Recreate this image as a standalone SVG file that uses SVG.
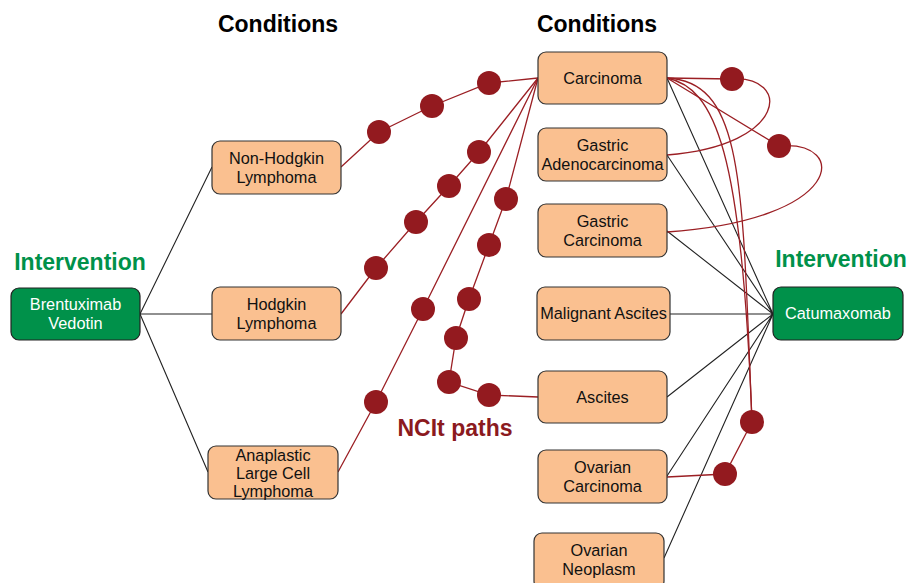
<svg xmlns="http://www.w3.org/2000/svg" width="909" height="583" viewBox="0 0 909 583">
<style>
.cond rect{fill:#FAC090;stroke:#333;stroke-width:1.2}
.drug rect{fill:#00914A;stroke:#222;stroke-width:1.2}
.cond text{font-family:"Liberation Sans",Arial,sans-serif;font-size:16.3px;fill:#111;text-anchor:middle}
.drug text{font-family:"Liberation Sans",Arial,sans-serif;font-size:16.3px;fill:#fff;text-anchor:middle}
.hd{font-family:"Liberation Sans",Arial,sans-serif;font-size:23px;font-weight:bold;text-anchor:middle}
.bl{stroke:#222;stroke-width:1.1;fill:none}
.rd{stroke:#9B1F24;stroke-width:1.3;fill:none}
.dot{fill:#931A1F}
</style>
<rect width="909" height="583" fill="#fff"/>
<text class="hd" x="278" y="32" fill="#000">Conditions</text>
<text class="hd" x="597" y="32" fill="#000">Conditions</text>
<text class="hd" x="80" y="270" fill="#00914A">Intervention</text>
<text class="hd" x="841" y="267" fill="#00914A">Intervention</text>
<text class="hd" x="455" y="436" fill="#8B1A1E">NCIt paths</text>
<g id="connectors">
<path class="bl" d="M140 314L212 167M140 314L212 314M140 314L208 472"/>
<path class="bl" d="M773 314L667 78M773 314L667 155M773 314L667 231M773 314L670 314M773 314L667 397M773 314L667 476M773 314L664 558"/>
<path class="rd" d="M341 167L379 132L432 106L489 83L538 78"/>
<path class="rd" d="M341 314L376 268L416 222L449 186L479 152L538 78"/>
<path class="rd" d="M338 472L376 402L423 309L538 78"/>
<path class="rd" d="M538 397L489 395L449 382L456 338L469 299L489 245L506 199L538 78"/>
<path class="rd" d="M667 78L732 79C790 75 790 145 667 155"/>
<path class="rd" d="M667 78L779 146C850 140 845 220 667 232"/>
<path class="rd" d="M667 78C715 88 742 150 752 422"/>
<path class="rd" d="M667 78C745 82 742 185 752 422"/>
<path class="rd" d="M752 422L725 474L667 477"/>
<g class="dot">
<circle cx="379" cy="132" r="12"/><circle cx="432" cy="106" r="12"/><circle cx="489" cy="83" r="12"/>
<circle cx="376" cy="268" r="12"/><circle cx="416" cy="222" r="12"/><circle cx="449" cy="186" r="12"/><circle cx="479" cy="152" r="12"/>
<circle cx="376" cy="402" r="12"/><circle cx="423" cy="309" r="12"/>
<circle cx="489" cy="395" r="12"/><circle cx="449" cy="382" r="12"/><circle cx="456" cy="338" r="12"/><circle cx="469" cy="299" r="12"/><circle cx="489" cy="245" r="12"/><circle cx="506" cy="199" r="12"/>
<circle cx="732" cy="79" r="12"/><circle cx="779" cy="146" r="12"/><circle cx="752" cy="422" r="12"/><circle cx="725" cy="474" r="12"/>
</g>
</g>
<g id="brentuximab" class="drug"><rect x="11" y="288" width="129" height="52" rx="8"/><text x="75.5" y="310">Brentuximab</text><text x="75.5" y="329">Vedotin</text></g>
<g id="catumaxomab" class="drug"><rect x="773" y="287" width="130" height="53" rx="8"/><text x="838" y="319">Catumaxomab</text></g>
<g id="nonhodgkin" class="cond"><rect x="212" y="141" width="129" height="53" rx="8"/><text x="276.5" y="164">Non-Hodgkin</text><text x="276.5" y="183">Lymphoma</text></g>
<g id="hodgkin" class="cond"><rect x="212" y="287" width="129" height="53" rx="8"/><text x="276.5" y="310">Hodgkin</text><text x="276.5" y="329">Lymphoma</text></g>
<g id="anaplastic" class="cond"><rect x="208" y="446" width="130" height="53" rx="8"/><text x="273" y="461">Anaplastic</text><text x="273" y="479">Large Cell</text><text x="273" y="497">Lymphoma</text></g>
<g id="carcinoma" class="cond"><rect x="538" y="52" width="129" height="52" rx="8"/><text x="602.5" y="84">Carcinoma</text></g>
<g id="gastricadeno" class="cond"><rect x="538" y="128" width="129" height="53" rx="8"/><text x="602.5" y="151">Gastric</text><text x="602.5" y="170">Adenocarcinoma</text></g>
<g id="gastriccarc" class="cond"><rect x="538" y="204" width="129" height="53" rx="8"/><text x="602.5" y="227">Gastric</text><text x="602.5" y="246">Carcinoma</text></g>
<g id="malignantascites" class="cond"><rect x="537" y="287" width="133" height="53" rx="8"/><text x="603.5" y="319">Malignant Ascites</text></g>
<g id="ascites" class="cond"><rect x="538" y="371" width="129" height="52" rx="8"/><text x="602.5" y="403">Ascites</text></g>
<g id="ovariancarc" class="cond"><rect x="538" y="450" width="129" height="53" rx="8"/><text x="602.5" y="473">Ovarian</text><text x="602.5" y="492">Carcinoma</text></g>
<g id="ovarianneo" class="cond"><rect x="534" y="533" width="130" height="56" rx="8"/><text x="599" y="556">Ovarian</text><text x="599" y="575">Neoplasm</text></g>
</svg>
